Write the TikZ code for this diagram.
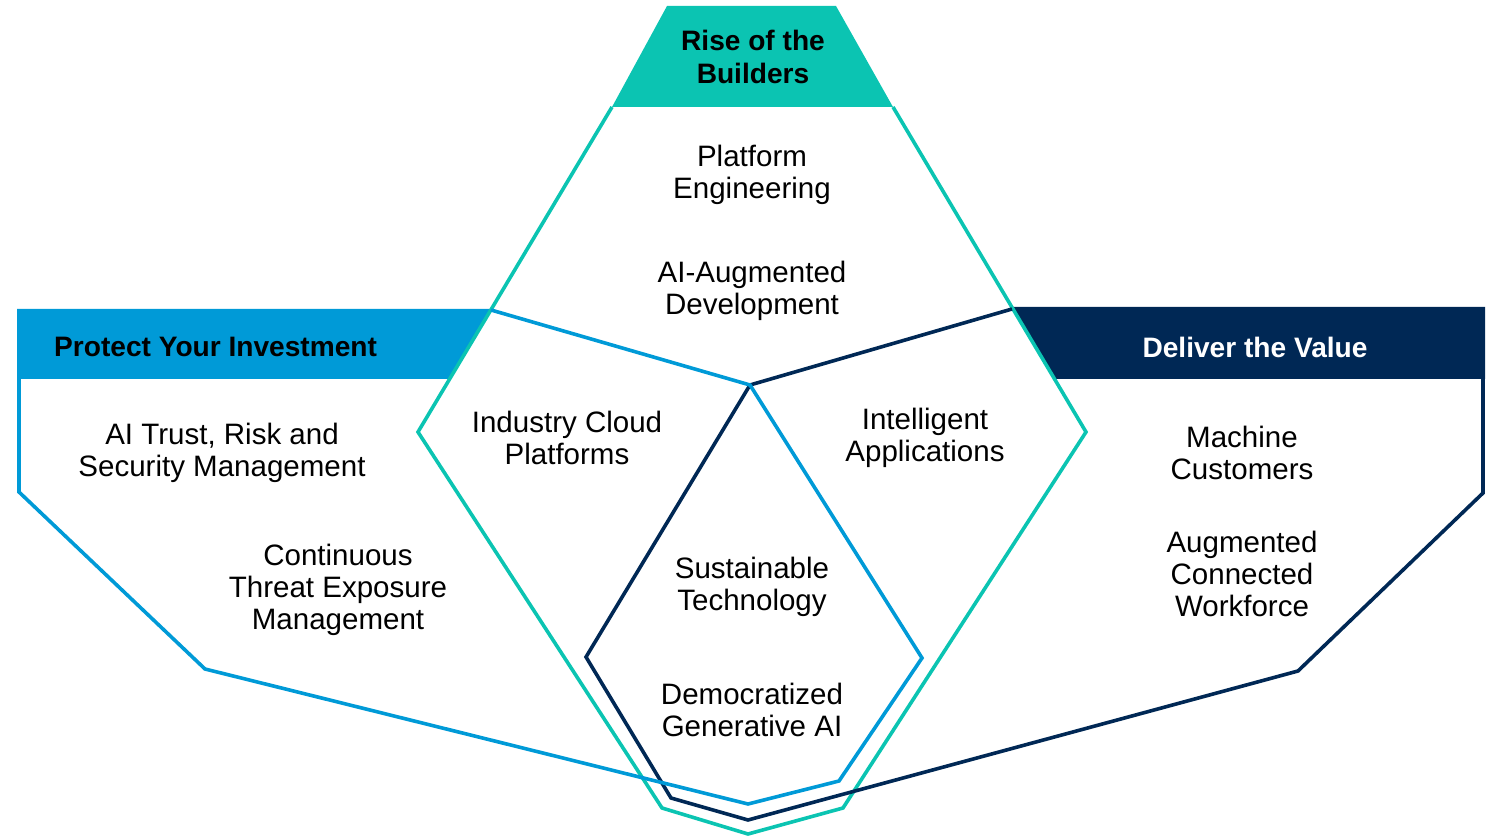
\documentclass[tikz,border=0pt]{standalone}
\usepackage{fontspec}
\setmainfont{Liberation Sans}

\definecolor{buildteal}{HTML}{0BC4B2}
\definecolor{protectblue}{HTML}{009AD7}
\definecolor{delivernavy}{HTML}{002855}

\tikzset{
  outline/.style={line width=0.072cm, line join=miter},
  trend/.style={align=center, font=\fontsize{16.8}{18.3}\selectfont},
  theme/.style={align=center, font=\fontsize{16}{18.3}\selectfont\bfseries},
}

\begin{document}
\begin{tikzpicture}[x=0.02cm,y=-0.02cm]
    \useasboundingbox (0,0) rectangle (1491,837);

    % --------------------------------------------------------- %
    % ------------- shared corners
    % --------------------------------------------------------- %
    \coordinate (hub) at (750,385);
    \coordinate (tealL) at (612,107);
    \coordinate (tealR) at (893,107);

    % --------------------------------------------------------- %
    % ------------- banners
    % --------------------------------------------------------- %
    \fill[buildteal] (667,6) -- (836,6) -- (tealR) -- (tealL) -- cycle;
    \fill[protectblue] (17,309) -- (491,309) -- (449,379) -- (17,379) -- cycle;
    \fill[delivernavy] (1012,307) -- (1485,307) -- (1485,379) -- (1055,379) -- cycle;

    % --------------------------------------------------------- %
    % ------------- outlines
    % --------------------------------------------------------- %
    % --- Rise of the Builders
    \draw[outline, buildteal] (tealL) -- (418,432) -- (662,808) -- (748,834)
      -- (843,808) -- (1086,432) -- (tealR);
    % --- Deliver the Value
    \draw[outline, delivernavy] (1012,309) -- (hub) -- (586,657) -- (671,798)
      -- (748,820) -- (1298,671) -- (1483,493) -- (1483,379);
    % --- Protect Your Investment
    \draw[outline, protectblue] (491,310) -- (hub) -- (922,658) -- (839,781)
      -- (748,804) -- (205,669) -- (19,492) -- (19,379);

    % --------------------------------------------------------- %
    % ------------- themes
    % --------------------------------------------------------- %
    \node[theme] (builders) at (753,57) {Rise of the\\Builders};
    \node[theme, anchor=west] (protect) at (48,347) {Protect Your Investment};
    \node[theme, text=white] (deliver) at (1255,347) {Deliver the Value};

    % --------------------------------------------------------- %
    % ------------- trends
    % --------------------------------------------------------- %
    % --- top
    \node[trend] (platform) at (752,175) {Platform\\Engineering};
    \node[trend] (augdev) at (752,291) {AI-Augmented\\Development};
    % --- left
    \node[trend] (trism) at (222,453) {AI Trust, Risk and\\Security Management};
    \node[trend] (ctem) at (338,590) {Continuous\\Threat Exposure\\Management};
    % --- right
    \node[trend] (machine) at (1242,453) {Machine\\Customers};
    \node[trend] (workforce) at (1242,574) {Augmented\\Connected\\Workforce};
    % --- overlaps
    \node[trend] (cloud) at (567,438) {Industry Cloud\\Platforms};
    \node[trend] (intapps) at (925,438) {Intelligent\\Applications};
    \node[trend] (sustain) at (752,587) {Sustainable\\Technology};
    \node[trend] (genai) at (752,710) {Democratized\\Generative AI};

\end{tikzpicture}
\end{document}
